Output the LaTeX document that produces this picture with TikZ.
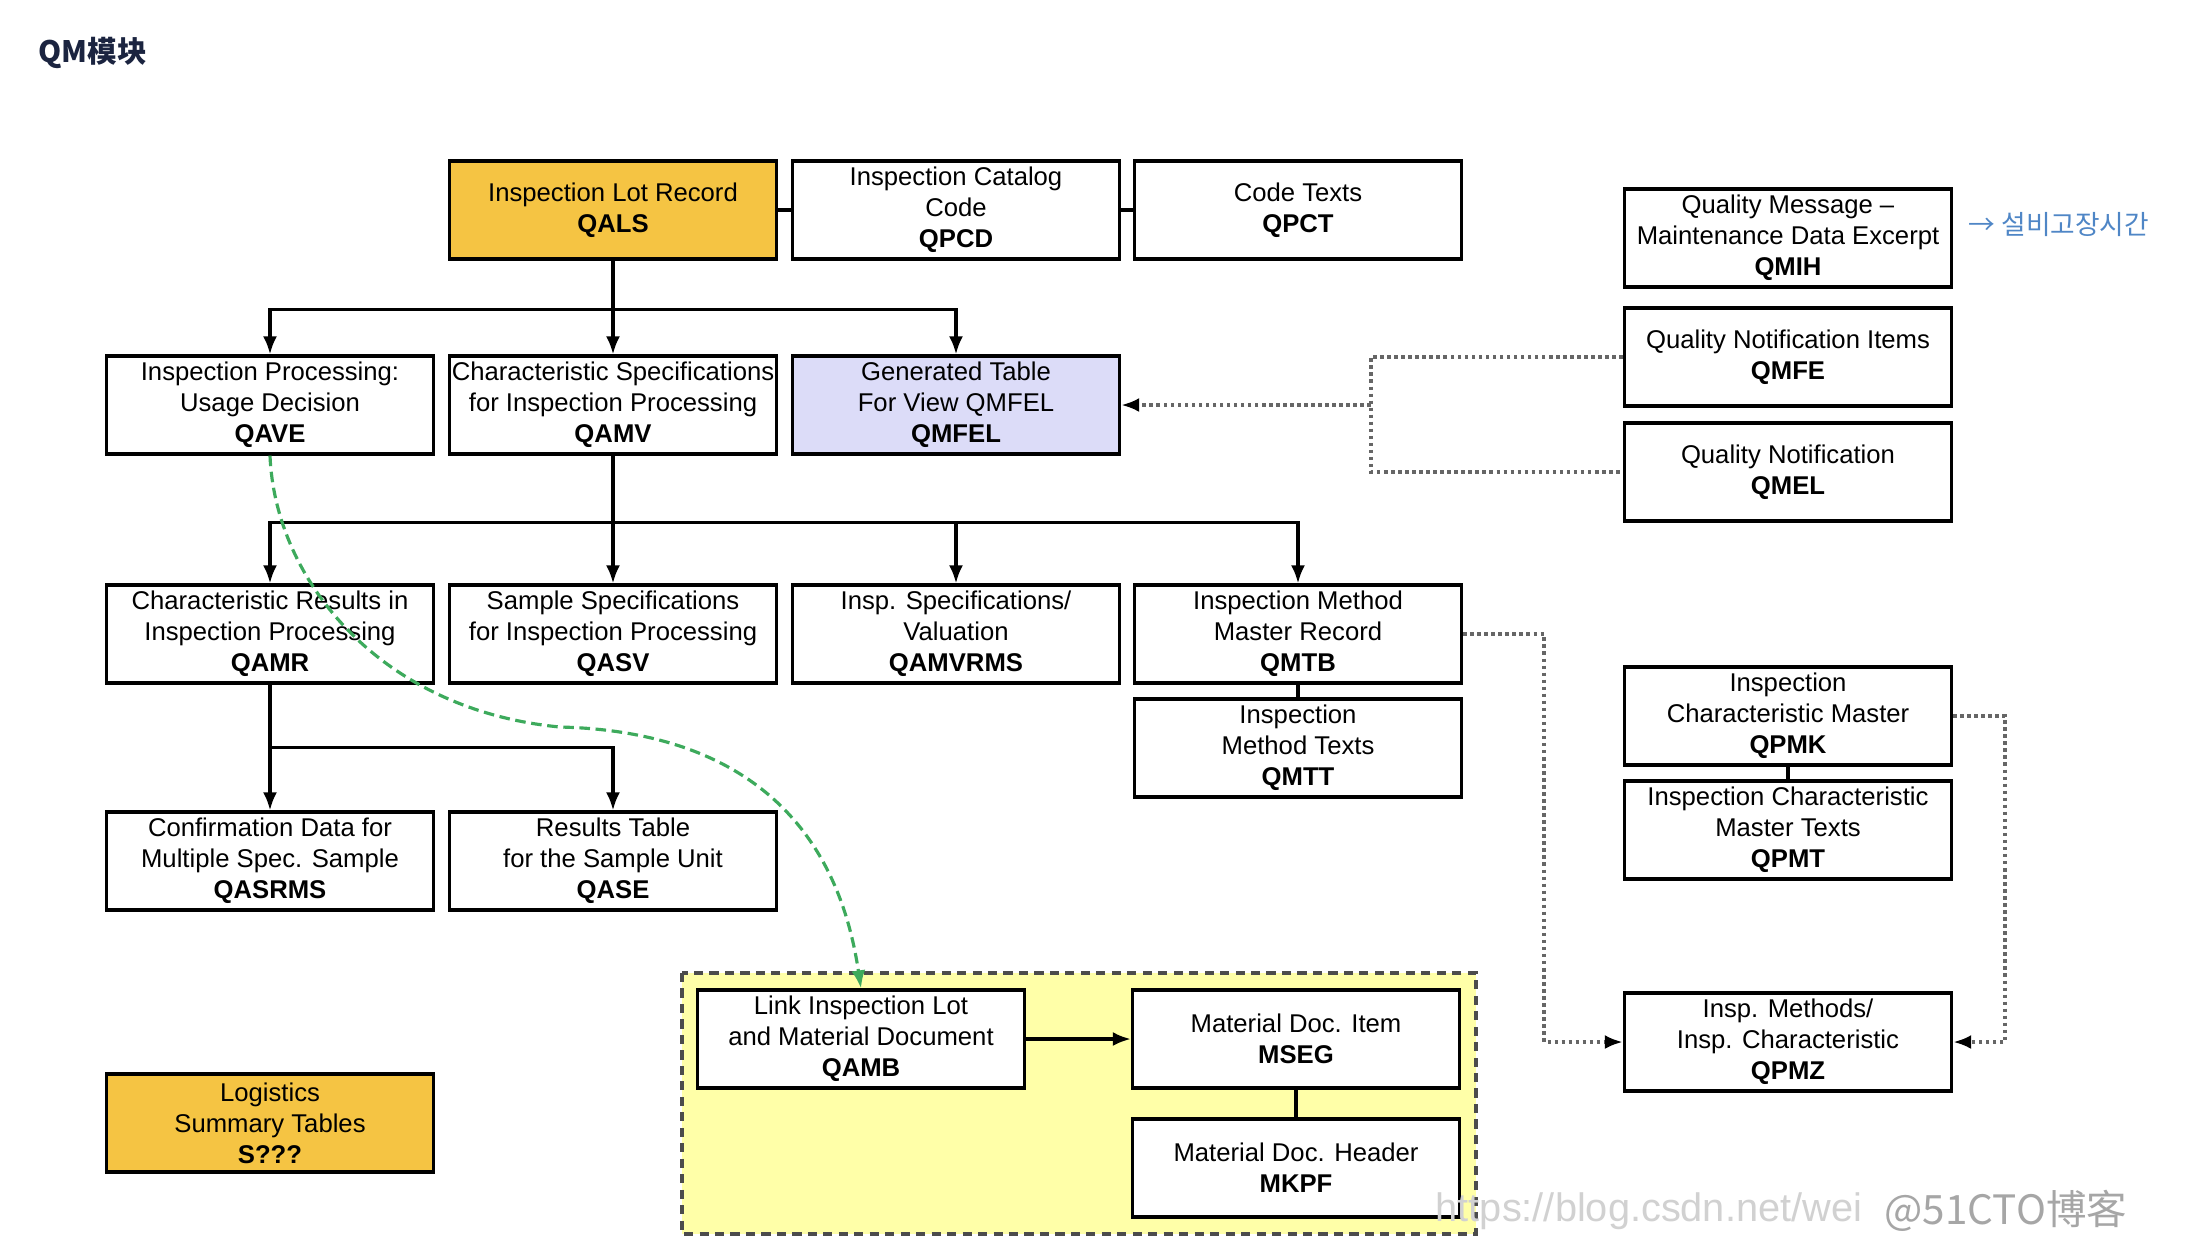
\documentclass[tikz,border=0pt]{standalone}
\usepackage{fontspec}
\setmainfont{Liberation Sans}
\newfontfamily\cjk{Noto Sans CJK SC}
\newfontfamily\krfont{Noto Sans CJK KR}
\usetikzlibrary{arrows.meta}

\definecolor{lotgold}{HTML}{F5C443}
\definecolor{viewlilac}{HTML}{DCDCF8}
\definecolor{docyellow}{HTML}{FFFFA8}
\definecolor{linkgreen}{HTML}{3DAA5C}
\definecolor{notekr}{HTML}{4F86C6}
\definecolor{titlenavy}{HTML}{1B2440}

\begin{document}
\begin{tikzpicture}[x=0.01cm, y=-0.01cm,
    tbl/.style={draw, line width=0.9pt, fill=white, minimum width=3.27cm, minimum height=0.98cm,
      inner sep=0pt, align=center, font=\fontsize{7.3}{8.8}\selectfont},
    link/.style={line width=0.9pt},
    arr/.style={line width=0.9pt, -{Latex[length=1.8mm,width=1.4mm]}},
    dotline/.style={densely dotted, line width=1pt, draw=black!60},
    dotarr/.style={dotline, -{Latex[length=1.8mm,width=1.4mm,color=black]}}]
  \useasboundingbox [fill=white] (0,0) rectangle (2196,1244);

  % タイトル
  \node [anchor=west, inner sep=0pt, text=titlenavy, font=\cjk\bfseries\fontsize{8.4}{10}\selectfont] (title) at (38,53) {QM模块};

  % 黄色の枠
  \draw [fill=docyellow, draw=black!70, line width=1.1pt, dash pattern=on 2.6pt off 1.8pt] (682,973) rectangle (1476,1234);

  % 1段目
  \node [tbl, fill=lotgold] (qals) at (613,210) {Inspection Lot Record\\\textbf{QALS}};
  \node [tbl] (qpcd) at (956,210) {Inspection Catalog\\Code\\\textbf{QPCD}};
  \node [tbl] (qpct) at (1298,210) {Code Texts\\\textbf{QPCT}};
  \node [tbl] (qmih) at (1788,238) {Quality Message --\\Maintenance Data Excerpt\\\textbf{QMIH}};
  \node [anchor=west, inner sep=0pt, text=notekr, font=\krfont\fontsize{7.6}{9}\selectfont] (note) at (1968,224) {→ 설비고장시간};

  % 2段目
  \node [tbl] (qave) at (270,405) {Inspection Processing:\\Usage Decision\\\textbf{QAVE}};
  \node [tbl] (qamv) at (613,405) {Characteristic Specifications\\for Inspection Processing\\\textbf{QAMV}};
  \node [tbl, fill=viewlilac] (qfel) at (956,405) {Generated Table\\For View QMFEL\\\textbf{QMFEL}};
  \node [tbl] (qmfe) at (1788,357) {Quality Notification Items\\\textbf{QMFE}};
  \node [tbl] (qmel) at (1788,472) {Quality Notification\\\textbf{QMEL}};

  % 3段目
  \node [tbl] (qamr) at (270,634) {Characteristic Results in\\Inspection Processing\\\textbf{QAMR}};
  \node [tbl] (qasv) at (613,634) {Sample Specifications\\for Inspection Processing\\\textbf{QASV}};
  \node [tbl] (qmvr) at (956,634) {Insp. Specifications/\\Valuation\\\textbf{QAMVRMS}};
  \node [tbl] (qmtb) at (1298,634) {Inspection Method\\Master Record\\\textbf{QMTB}};
  \node [tbl] (qmtt) at (1298,748) {Inspection\\Method Texts\\\textbf{QMTT}};
  \node [tbl] (qpmk) at (1788,716) {Inspection\\Characteristic Master\\\textbf{QPMK}};
  \node [tbl] (qpmt) at (1788,830) {Inspection Characteristic\\Master Texts\\\textbf{QPMT}};

  % 4段目
  \node [tbl] (qasr) at (270,861) {Confirmation Data for\\Multiple Spec. Sample\\\textbf{QASRMS}};
  \node [tbl] (qase) at (613,861) {Results Table\\for the Sample Unit\\\textbf{QASE}};
  \node [tbl] (qpmz) at (1788,1042) {Insp. Methods/\\Insp. Characteristic\\\textbf{QPMZ}};

  % 黄色の枠の中
  \node [tbl] (qamb) at (861,1039) {Link Inspection Lot\\and Material Document\\\textbf{QAMB}};
  \node [tbl] (mseg) at (1296,1039) {Material Doc. Item\\\textbf{MSEG}};
  \node [tbl] (mkpf) at (1296,1168) {Material Doc. Header\\\textbf{MKPF}};
  \node [tbl, fill=lotgold] (logi) at (270,1123) {Logistics\\Summary Tables\\\textbf{S???}};

  % 実線
  \draw [link] (qals.east) -- (qpcd.west);
  \draw [link] (qpcd.east) -- (qpct.west);
  \draw [arr] (qals.south) -- ++(0,49) -| (qave.north);
  \draw [arr] (qals.south) -- (qamv.north);
  \draw [arr] (qals.south) -- ++(0,49) -| (qfel.north);
  \draw [arr] (qamv.south) -- ++(0,67) -| (qamr.north);
  \draw [arr] (qamv.south) -- (qasv.north);
  \draw [arr] (qamv.south) -- ++(0,67) -| (qmvr.north);
  \draw [arr] (qamv.south) -- ++(0,67) -| (qmtb.north);
  \draw [arr] (qamr.south) -- (qasr.north);
  \draw [arr] (qamr.south) -- ++(0,63) -| (qase.north);
  \draw [link] (qmtb.south) -- (qmtt.north);
  \draw [link] (qpmk.south) -- (qpmt.north);
  \draw [link] (mseg.south) -- (mkpf.north);
  \draw [arr] (qamb.east) -- (mseg.west);

  % 点線
  \coordinate (fork) at (1371,405);
  \draw [dotline] (qmfe.west) -| (fork) |- (qmel.west);
  \draw [dotarr] (fork) -- (qfel.east);
  \draw [dotarr] (qmtb.east) -- ++(81,0) |- (qpmz.west);
  \draw [dotarr] (qpmk.east) -- ++(52,0) |- (qpmz.east);

  % 緑の曲線
  \draw [linkgreen, dash pattern=on 3pt off 1.6pt, line width=0.9pt, -{Latex[length=1.8mm,width=1.4mm]}]
    (qave.south) .. controls (275,580) and (380,710) .. (560,727)
    .. controls (690,730) and (830,780) .. (qamb.north);

  % 透かし
  \node [anchor=west, inner sep=0pt, text=black!18, font=\fontsize{11.3}{12}\selectfont] (wm) at (1435,1211) {https://blog.csdn.net/wei};
  \node [anchor=west, inner sep=0pt, text=black!35, font=\cjk\fontsize{11.5}{12}\selectfont] (wmb) at (1884,1211) {@51CTO博客};
\end{tikzpicture}
\end{document}
